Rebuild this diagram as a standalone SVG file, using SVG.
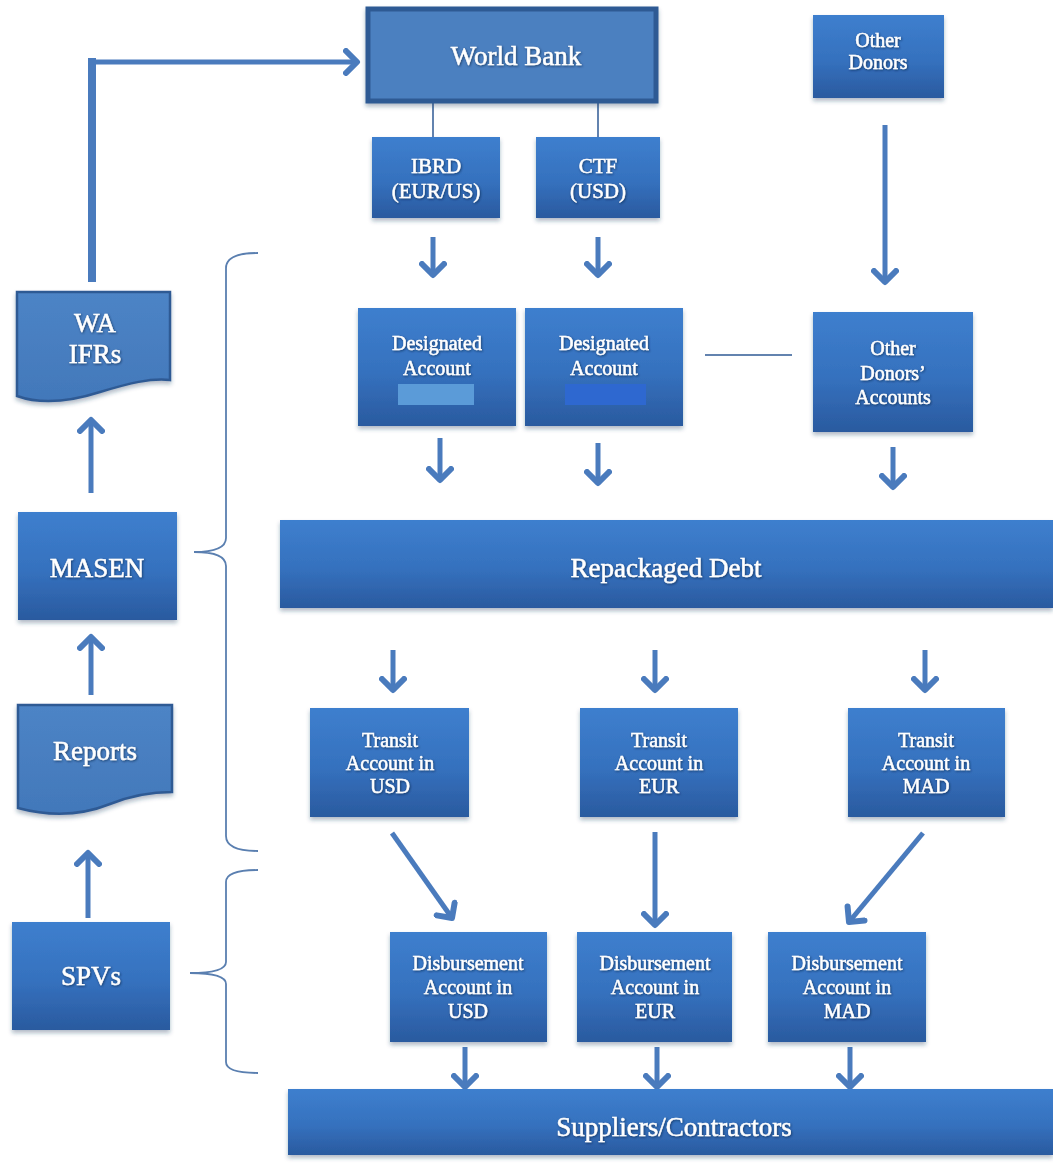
<svg xmlns="http://www.w3.org/2000/svg" width="1053" height="1164" viewBox="0 0 1053 1164">
<defs>
<linearGradient id="g" x1="0" y1="0" x2="0" y2="1">
<stop offset="0" stop-color="#3e7fce"/>
<stop offset="0.55" stop-color="#3571be"/>
<stop offset="1" stop-color="#2a5a9f"/>
</linearGradient>
<linearGradient id="gd" x1="0" y1="0" x2="0" y2="1">
<stop offset="0" stop-color="#4d84c6"/>
<stop offset="1" stop-color="#4278ba"/>
</linearGradient>
<filter id="sh" x="-10%" y="-10%" width="120%" height="125%">
<feDropShadow dx="0" dy="3" stdDeviation="2" flood-color="#203a60" flood-opacity="0.35"/>
</filter>
<filter id="ts" x="-10%" y="-20%" width="120%" height="140%">
<feDropShadow dx="0.8" dy="1" stdDeviation="0.8" flood-color="#0c2142" flood-opacity="0.7"/>
</filter>
<marker id="ch" viewBox="-14 -14 28 28" refX="0" refY="0" markerWidth="28" markerHeight="28" markerUnits="userSpaceOnUse" orient="auto">
<path d="M-11,-11 L0,0 L-11,11" fill="none" stroke="#4a7bbd" stroke-width="6" stroke-linecap="round" stroke-linejoin="round"/>
</marker>
</defs>
<style>
.b{fill:url(#g);filter:url(#sh)}
.t{fill:#ffffff;stroke:#ffffff;stroke-width:0.45;font-family:"Liberation Serif","Times New Roman",serif;text-anchor:middle;filter:url(#ts)}
.s{font-size:20px}
.l{font-size:27px}
.a{stroke:#4a7bbd;stroke-width:5;fill:none;marker-end:url(#ch)}
.th{stroke:#2f5a94;stroke-width:1.5;fill:none}
.br{stroke:#5a7fb0;stroke-width:1.8;fill:none}
</style>

<g id="connectors">
<line x1="92" y1="282" x2="92" y2="58" stroke="#4a7bbd" stroke-width="8"/>
<path class="a" d="M88,62 H357"/>
<line class="th" x1="433" y1="102" x2="433" y2="137"/>
<line class="th" x1="598" y1="102" x2="598" y2="137"/>
<path class="a" d="M433,237 V275"/>
<path class="a" d="M598,237 V275"/>
<path class="a" d="M885,125 V282"/>
<line x1="705" y1="355" x2="792" y2="355" stroke="#2f5a94" stroke-width="1.3"/>
<path class="a" d="M440,438 V480"/>
<path class="a" d="M598,443 V483"/>
<path class="a" d="M893,447 V487"/>
<path class="a" d="M393,650 V690"/>
<path class="a" d="M655,650 V690"/>
<path class="a" d="M925,650 V690"/>
<path class="a" d="M392,833 L452,918"/>
<path class="a" d="M655,832 V925"/>
<path class="a" d="M923,833 L849,922"/>
<path class="a" d="M465,1047 V1087"/>
<path class="a" d="M657,1047 V1087"/>
<path class="a" d="M850,1047 V1087"/>
<path class="a" d="M91,493 V420"/>
<path class="a" d="M91,695 V637"/>
<path class="a" d="M88,918 V853"/>
<path class="br" d="M258,253 Q226,253 226,268 V538 Q226,552 194,552 Q226,552 226,566 V836 Q226,851 258,851"/>
<path class="br" d="M258,870 Q226,870 226,882 V962 Q226,973 190,973 Q226,973 226,984 V1062 Q226,1073 258,1073"/>
</g>

<g id="world-bank">
<rect x="368" y="9" width="288" height="92" fill="#4b80c0" stroke="#2f5a94" stroke-width="5" filter="url(#sh)"/>
<text class="t l" x="516" y="65">World Bank</text>
</g>
<g id="ibrd">
<rect class="b" x="372" y="137" width="128" height="81"/>
<text class="t" font-size="21" x="436" y="173">IBRD</text>
<text class="t" font-size="21" x="436" y="198">(EUR/US)</text>
</g>
<g id="ctf">
<rect class="b" x="536" y="137" width="124" height="81"/>
<text class="t" font-size="21" x="598" y="173">CTF</text>
<text class="t" font-size="21" x="598" y="198">(USD)</text>
</g>
<g id="other-donors">
<rect class="b" x="813" y="15" width="131" height="83"/>
<text class="t s" x="878" y="47">Other</text>
<text class="t s" x="878" y="69">Donors</text>
</g>
<g id="designated-account-1">
<rect class="b" x="358" y="308" width="158" height="118"/>
<text class="t s" x="437" y="350">Designated</text>
<text class="t s" x="437" y="375">Account</text>
<rect x="398" y="384" width="76" height="21" fill="#5b9bd8"/>
</g>
<g id="designated-account-2">
<rect class="b" x="525" y="308" width="158" height="118"/>
<text class="t s" x="604" y="350">Designated</text>
<text class="t s" x="604" y="375">Account</text>
<rect x="565" y="384" width="81" height="21" fill="#2e68d0"/>
</g>
<g id="other-donors-accounts">
<rect class="b" x="813" y="312" width="160" height="120"/>
<text class="t s" x="893" y="355">Other</text>
<text class="t s" x="893" y="380">Donors’</text>
<text class="t s" x="893" y="404">Accounts</text>
</g>
<g id="repackaged-debt">
<rect class="b" x="280" y="520" width="773" height="88"/>
<text class="t l" x="666" y="577">Repackaged Debt</text>
</g>
<g id="transit-usd">
<rect class="b" x="310" y="708" width="159" height="109"/>
<text class="t s" x="390" y="747">Transit</text>
<text class="t s" x="390" y="770">Account in</text>
<text class="t s" x="390" y="793">USD</text>
</g>
<g id="transit-eur">
<rect class="b" x="580" y="708" width="158" height="109"/>
<text class="t s" x="659" y="747">Transit</text>
<text class="t s" x="659" y="770">Account in</text>
<text class="t s" x="659" y="793">EUR</text>
</g>
<g id="transit-mad">
<rect class="b" x="848" y="708" width="157" height="109"/>
<text class="t s" x="926" y="747">Transit</text>
<text class="t s" x="926" y="770">Account in</text>
<text class="t s" x="926" y="793">MAD</text>
</g>
<g id="disbursement-usd">
<rect class="b" x="390" y="932" width="157" height="110"/>
<text class="t s" x="468" y="970">Disbursement</text>
<text class="t s" x="468" y="994">Account in</text>
<text class="t s" x="468" y="1018">USD</text>
</g>
<g id="disbursement-eur">
<rect class="b" x="577" y="932" width="155" height="110"/>
<text class="t s" x="655" y="970">Disbursement</text>
<text class="t s" x="655" y="994">Account in</text>
<text class="t s" x="655" y="1018">EUR</text>
</g>
<g id="disbursement-mad">
<rect class="b" x="768" y="932" width="158" height="110"/>
<text class="t s" x="847" y="970">Disbursement</text>
<text class="t s" x="847" y="994">Account in</text>
<text class="t s" x="847" y="1018">MAD</text>
</g>
<g id="suppliers-contractors">
<rect class="b" x="288" y="1089" width="765" height="66"/>
<text class="t l" x="674" y="1136">Suppliers/Contractors</text>
</g>
<g id="wa-ifrs">
<path d="M17,292 H170 V380 C150,378 130,383 100,392 C75,400 45,406 17,396 Z" fill="url(#gd)" stroke="#2f5a94" stroke-width="2.5" filter="url(#sh)"/>
<text class="t l" x="95" y="332">WA</text>
<text class="t l" x="95" y="363">IFRs</text>
</g>
<g id="masen">
<rect class="b" x="18" y="512" width="159" height="108"/>
<text class="t l" x="97" y="577">MASEN</text>
</g>
<g id="reports">
<path d="M18,705 H172 V792 C150,792 130,796 110,804 C85,814 55,818 18,808 Z" fill="url(#gd)" stroke="#2f5a94" stroke-width="2.5" filter="url(#sh)"/>
<text class="t l" x="95" y="760">Reports</text>
</g>
<g id="spvs">
<rect class="b" x="12" y="922" width="158" height="108"/>
<text class="t l" x="91" y="985">SPVs</text>
</g>
</svg>
